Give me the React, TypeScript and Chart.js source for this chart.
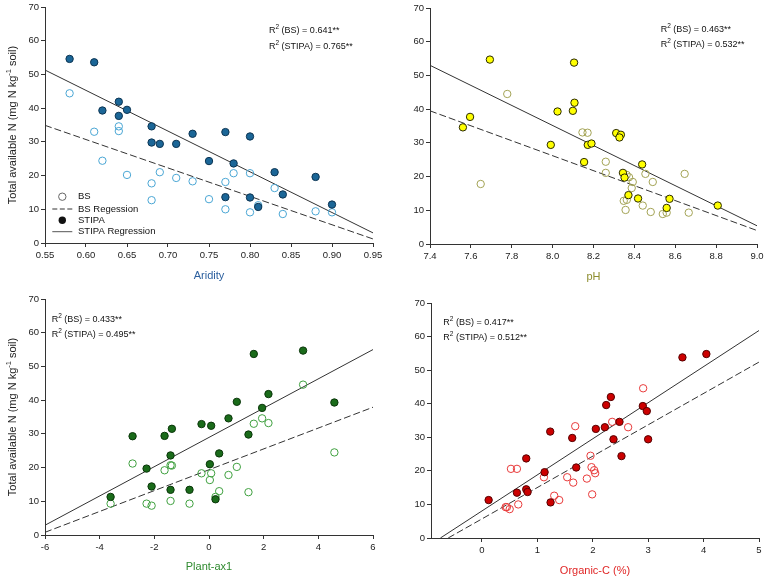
import React, { useEffect, useRef } from "react";
import { Chart, registerables } from "chart.js";
Chart.register(...registerables);

const FONT = "'Liberation Sans', Arial, Helvetica, sans-serif";
const SMALL = 9.5;
const R2SIZE = 9;

// ---------------- data ----------------
const yTicks = [0, 10, 20, 30, 40, 50, 60, 70];

// Panel 1: Aridity
const aridityTicks = [0.55, 0.6, 0.65, 0.7, 0.75, 0.8, 0.85, 0.9, 0.95];
const aridityStipaX = [0.58, 0.61, 0.62, 0.64, 0.64, 0.65, 0.68, 0.68, 0.69, 0.71, 0.73, 0.75, 0.77, 0.77, 0.78, 0.8, 0.8, 0.81, 0.83, 0.84, 0.88, 0.9];
const aridityStipaY = [54.6, 53.6, 39.3, 41.9, 37.7, 39.5, 34.6, 29.8, 29.4, 29.4, 32.4, 24.3, 32.9, 13.6, 23.6, 31.6, 13.5, 10.7, 21.0, 14.4, 19.6, 11.4];
const aridityBsX = [0.58, 0.61, 0.62, 0.64, 0.64, 0.65, 0.68, 0.68, 0.69, 0.71, 0.73, 0.75, 0.77, 0.77, 0.78, 0.8, 0.8, 0.81, 0.83, 0.84, 0.88, 0.9];
const aridityBsY = [44.4, 33.0, 24.4, 34.6, 33.2, 20.2, 17.7, 12.7, 21.0, 19.3, 18.3, 13.0, 18.1, 10.0, 20.7, 20.7, 9.1, 11.2, 16.3, 8.6, 9.4, 9.1];
const aridityStipaLineX = [0.55, 0.95];
const aridityStipaLineY = [51.3, 3.0];
const aridityBsLineX = [0.55, 0.95];
const aridityBsLineY = [34.9, 1.2];

// Panel 2: pH
const phTicks = [7.4, 7.6, 7.8, 8.0, 8.2, 8.4, 8.6, 8.8, 9.0];
const phStipaX = [7.693, 8.105, 7.561, 7.596, 8.024, 8.099, 8.107, 7.991, 8.172, 8.19, 8.154, 8.311, 8.334, 8.327, 8.438, 8.344, 8.352, 8.371, 8.418, 8.572, 8.558, 8.808];
const phStipaY = [54.7, 53.8, 34.6, 37.7, 39.3, 39.5, 41.9, 29.4, 29.4, 29.8, 24.3, 32.9, 32.4, 31.6, 23.6, 21.1, 19.7, 14.5, 13.5, 13.4, 10.7, 11.4];
const phBsX = [7.778, 7.648, 8.146, 8.171, 8.26, 8.26, 8.362, 8.374, 8.392, 8.387, 8.454, 8.49, 8.646, 8.348, 8.363, 8.357, 8.441, 8.48, 8.539, 8.558, 8.666];
const phBsY = [44.5, 17.8, 33.1, 33.0, 24.4, 21.1, 20.5, 19.8, 18.4, 16.6, 20.8, 18.4, 20.8, 12.8, 13.1, 10.1, 11.4, 9.5, 8.9, 9.3, 9.3];
const phStipaLineX = [7.4, 9.0];
const phStipaLineY = [53.0, 5.4];
const phBsLineX = [7.4, 9.0];
const phBsLineY = [39.5, 4.0];

// Panel 3: Plant-ax1
const plantTicks = [-6, -4, -2, 0, 2, 4, 6];
const plantStipaX = [-3.6, -2.796, -2.284, -2.1, -1.626, -1.358, -1.407, -1.407, -0.713, -0.274, 0.079, 0.031, 0.238, 0.372, 0.713, 1.018, 1.444, 1.639, 1.943, 2.175, 3.442, 4.587];
const plantStipaY = [11.3, 29.3, 19.7, 14.4, 29.4, 31.5, 23.6, 13.4, 13.4, 32.9, 32.4, 21.0, 10.6, 24.2, 34.6, 39.5, 29.8, 53.7, 37.7, 41.8, 54.7, 39.3];
const plantBsX = [-3.6, -2.796, -2.284, -2.1, -1.626, -1.407, -1.358, -1.407, -0.713, -0.274, 0.079, 0.031, 0.238, 0.372, 0.713, 1.018, 1.444, 1.639, 1.943, 2.175, 3.442, 4.587];
const plantBsY = [9.3, 21.2, 9.3, 8.7, 19.2, 20.7, 20.6, 10.1, 9.3, 18.3, 18.3, 16.3, 11.3, 13.0, 17.8, 20.2, 12.7, 33.0, 34.6, 33.2, 44.6, 24.5];
const plantStipaLineX = [-6, 6];
const plantStipaLineY = [2.9, 55.0];
const plantBsLineX = [-6, 6];
const plantBsLineY = [0.8, 37.9];

// Panel 4: Organic-C (%)
const orgTicks = [0, 1, 2, 3, 4, 5];
const orgStipaX = [0.12, 0.631, 0.799, 0.799, 0.823, 1.13, 1.232, 1.238, 1.629, 1.701, 2.055, 2.218, 2.242, 2.326, 2.374, 2.482, 2.518, 2.903, 2.975, 2.999, 3.618, 4.05];
const orgStipaY = [11.3, 13.5, 23.7, 14.5, 13.7, 19.6, 31.7, 10.6, 29.8, 21.0, 32.5, 33.0, 39.6, 42.0, 29.4, 34.6, 24.4, 39.3, 37.8, 29.4, 53.8, 54.8];
const orgBsX = [0.427, 0.45, 0.5, 0.523, 0.631, 0.655, 1.118, 1.304, 1.394, 1.538, 1.647, 1.683, 1.893, 1.959, 1.977, 1.989, 2.025, 2.043, 2.35, 2.638, 2.909];
const orgBsY = [9.2, 9.2, 8.6, 20.6, 20.6, 10.0, 18.1, 12.6, 11.3, 18.1, 16.5, 33.3, 17.7, 24.5, 21.1, 13.0, 20.2, 19.3, 34.6, 33.0, 44.6];
const orgStipaLineX = [-0.75, 5];
const orgStipaLineY = [0, 61.8];
const orgBsLineX = [-0.61, 5];
const orgBsLineY = [0, 52.4];

const legendLabels = ["BS", "BS Regession", "STIPA", "STIPA Regression"];
const yTitleMain = "Total available N (mg N kg";
const yTitleSup = "-1";
const yTitleEnd = " soil)";

// ---------------- panels ----------------
type Cfg = {
  left: number; top: number; width: number; height: number;
  padTop: number; padRight: number; yAxisW: number; xAxisH: number;
  xMin: number; xMax: number; xTicks: number[]; xDec: number;
  xTitle: string; xTitleColor: string; xTitlePad: number;
  stipaX: number[]; stipaY: number[]; bsX: number[]; bsY: number[];
  sLX: number[]; sLY: number[]; bLX: number[]; bLY: number[];
  stipaFill: string; stipaBorder: string; bsBorder: string;
  r2: string[]; r2Dx: number; r2Dy: number[];
  yTitle: boolean; legend: boolean;
};

const panels: Cfg[] = [
  {
    left: 0, top: 0, width: 384, height: 290, padTop: 7, padRight: 11, yAxisW: 45, xAxisH: 47,
    xMin: 0.55, xMax: 0.95, xTicks: aridityTicks, xDec: 2,
    xTitle: "Aridity", xTitleColor: "#2b5f9e", xTitlePad: 7,
    stipaX: aridityStipaX, stipaY: aridityStipaY, bsX: aridityBsX, bsY: aridityBsY,
    sLX: aridityStipaLineX, sLY: aridityStipaLineY, bLX: aridityBsLineX, bLY: aridityBsLineY,
    stipaFill: "#1b6697", stipaBorder: "#0c3452", bsBorder: "#4aa6d4",
    r2: ["0.641**", "0.765**"], r2Dx: 224, r2Dy: [24, 39.7],
    yTitle: true, legend: true,
  },
  {
    left: 384, top: 0, width: 383, height: 290, padTop: 8, padRight: 10, yAxisW: 46, xAxisH: 46,
    xMin: 7.4, xMax: 9.0, xTicks: phTicks, xDec: 1,
    xTitle: "pH", xTitleColor: "#8d8d2e", xTitlePad: 6,
    stipaX: phStipaX, stipaY: phStipaY, bsX: phBsX, bsY: phBsY,
    sLX: phStipaLineX, sLY: phStipaLineY, bLX: phBsLineX, bLY: phBsLineY,
    stipaFill: "#ffff00", stipaBorder: "#2a2a00", bsBorder: "#a3a355",
    r2: ["0.463**", "0.532**"], r2Dx: 230.7, r2Dy: [21.3, 37],
    yTitle: false, legend: false,
  },
  {
    left: 0, top: 290, width: 384, height: 290, padTop: 9, padRight: 11, yAxisW: 45, xAxisH: 45,
    xMin: -6, xMax: 6, xTicks: plantTicks, xDec: 0,
    xTitle: "Plant-ax1", xTitleColor: "#2f8a2f", xTitlePad: 6.7,
    stipaX: plantStipaX, stipaY: plantStipaY, bsX: plantBsX, bsY: plantBsY,
    sLX: plantStipaLineX, sLY: plantStipaLineY, bLX: plantBsLineX, bLY: plantBsLineY,
    stipaFill: "#1a6b1a", stipaBorder: "#0a360a", bsBorder: "#3fa03f",
    r2: ["0.433**", "0.495**"], r2Dx: 6.7, r2Dy: [20.3, 35.7],
    yTitle: true, legend: false,
  },
  {
    left: 384, top: 290, width: 383, height: 290, padTop: 13, padRight: 8, yAxisW: 47, xAxisH: 42,
    xMin: -0.92, xMax: 5, xTicks: orgTicks, xDec: 0,
    xTitle: "Organic-C (%)", xTitleColor: "#e02626", xTitlePad: 2.4,
    stipaX: orgStipaX, stipaY: orgStipaY, bsX: orgBsX, bsY: orgBsY,
    sLX: orgStipaLineX, sLY: orgStipaLineY, bLX: orgBsLineX, bLY: orgBsLineY,
    stipaFill: "#cc0000", stipaBorder: "#550000", bsBorder: "#e83a3a",
    r2: ["0.417**", "0.512**"], r2Dx: 12.3, r2Dy: [19.3, 34.7],
    yTitle: false, legend: false,
  },
];

const pts = (xs: number[], ys: number[]) => xs.map((x, i) => ({ x, y: ys[i] }));

function drawR2(ctx: CanvasRenderingContext2D, x: number, y: number, label: string, value: string) {
  ctx.fillStyle = "#111";
  ctx.textBaseline = "middle";
  ctx.textAlign = "left";
  ctx.font = `${R2SIZE}px ${FONT}`;
  ctx.fillText("R", x, y);
  let cx = x + ctx.measureText("R").width;
  ctx.font = `6.5px ${FONT}`;
  ctx.fillText("2", cx, y - 3.5);
  cx += ctx.measureText("2").width;
  ctx.font = `${R2SIZE}px ${FONT}`;
  ctx.fillText(` (${label}) = ${value}`, cx, y);
}

function annotPlugin(c: Cfg) {
  return {
    id: "annot",
    afterDraw(chart: any) {
      const ctx: CanvasRenderingContext2D = chart.ctx;
      const ca = chart.chartArea;
      ctx.save();
      drawR2(ctx, ca.left + c.r2Dx, ca.top + c.r2Dy[0], "BS", c.r2[0]);
      drawR2(ctx, ca.left + c.r2Dx, ca.top + c.r2Dy[1], "STIPA", c.r2[1]);

      if (c.legend) {
        const mx = 62.3, tx = 78, lx0 = 52.3, lx1 = 72.3;
        const rows = [196.7, 209, 220.3, 231.7];
        ctx.font = `${SMALL}px ${FONT}`;
        ctx.fillStyle = "#111";
        ctx.textBaseline = "middle";
        legendLabels.forEach((t, i) => ctx.fillText(t, tx, rows[i]));
        ctx.beginPath();
        ctx.arc(mx, rows[0], 3.7, 0, Math.PI * 2);
        ctx.strokeStyle = "#666";
        ctx.lineWidth = 1;
        ctx.stroke();
        ctx.strokeStyle = "#333";
        ctx.setLineDash([5, 2.5]);
        ctx.beginPath();
        ctx.moveTo(lx0, rows[1]);
        ctx.lineTo(lx1, rows[1]);
        ctx.stroke();
        ctx.setLineDash([]);
        ctx.beginPath();
        ctx.arc(mx, rows[2], 3.7, 0, Math.PI * 2);
        ctx.fillStyle = "#111";
        ctx.fill();
        ctx.strokeStyle = "#555";
        ctx.beginPath();
        ctx.moveTo(lx0, rows[3]);
        ctx.lineTo(lx1, rows[3]);
        ctx.stroke();
      }

      if (c.yTitle) {
        const cy = (ca.top + ca.bottom) / 2;
        ctx.translate(12.5, cy);
        ctx.rotate(-Math.PI / 2);
        ctx.fillStyle = "#222";
        ctx.textBaseline = "middle";
        ctx.textAlign = "left";
        const big = `11px ${FONT}`;
        const small = `7.5px ${FONT}`;
        ctx.font = big;
        const w1 = ctx.measureText(yTitleMain).width;
        const w3 = ctx.measureText(yTitleEnd).width;
        ctx.font = small;
        const w2 = ctx.measureText(yTitleSup).width;
        let x = -(w1 + w2 + w3) / 2;
        ctx.font = big;
        ctx.fillText(yTitleMain, x, 0);
        x += w1;
        ctx.font = small;
        ctx.fillText(yTitleSup, x, -4);
        x += w2;
        ctx.font = big;
        ctx.fillText(yTitleEnd, x, 0);
      }
      ctx.restore();
    },
  };
}

function Panel({ c }: { c: Cfg }) {
  const ref = useRef<HTMLCanvasElement>(null);
  useEffect(() => {
    const gridCfg = { display: true, drawOnChartArea: false, drawTicks: true, tickLength: 4, color: "#333", lineWidth: 1 };
    const borderCfg = { display: true, color: "#333", width: 1 };
    const tickFont = { family: FONT, size: SMALL };
    const chart = new Chart(ref.current as HTMLCanvasElement, {
      type: "scatter",
      data: {
        datasets: [
          {
            label: "STIPA", data: pts(c.stipaX, c.stipaY), pointRadius: 3.7,
            pointBackgroundColor: c.stipaFill, pointBorderColor: c.stipaBorder, pointBorderWidth: 1, order: 0,
          },
          {
            label: "BS", data: pts(c.bsX, c.bsY), pointRadius: 3.7,
            pointBackgroundColor: "rgba(255,255,255,0)", pointBorderColor: c.bsBorder, pointBorderWidth: 1, order: 1,
          },
          {
            label: "STIPA Regression", data: pts(c.sLX, c.sLY), showLine: true, pointRadius: 0,
            borderColor: "#333", borderWidth: 1, order: 2,
          },
          {
            label: "BS Regession", data: pts(c.bLX, c.bLY), showLine: true, pointRadius: 0,
            borderColor: "#333", borderWidth: 1, borderDash: [7, 3], order: 3,
          },
        ],
      } as any,
      options: {
        responsive: false,
        animation: false,
        devicePixelRatio: 1,
        events: [],
        layout: { padding: { top: c.padTop, right: c.padRight, left: 0, bottom: 0 } },
        plugins: { legend: { display: false }, tooltip: { enabled: false } },
        scales: {
          x: {
            type: "linear", position: "bottom", min: c.xMin, max: c.xMax,
            afterBuildTicks: (a: any) => { a.ticks = c.xTicks.map((v) => ({ value: v })); },
            afterFit: (a: any) => { a.height = c.xAxisH; a.paddingLeft = 0; a.paddingRight = 0; },
            ticks: {
              font: tickFont, color: "#222", padding: 3, maxRotation: 0, autoSkip: false,
              callback: (v: any) => Number(v).toFixed(c.xDec),
            },
            grid: gridCfg, border: borderCfg,
            title: {
              display: true, text: c.xTitle, color: c.xTitleColor,
              font: { family: FONT, size: 11 }, padding: { top: 0, bottom: c.xTitlePad },
            },
          },
          y: {
            type: "linear", position: "left", min: 0, max: 70,
            afterBuildTicks: (a: any) => { a.ticks = yTicks.map((v) => ({ value: v })); },
            afterFit: (a: any) => { a.width = c.yAxisW; a.paddingTop = 0; a.paddingBottom = 0; },
            ticks: { font: tickFont, color: "#222", padding: 2, autoSkip: false },
            grid: gridCfg, border: borderCfg,
          },
        },
      } as any,
      plugins: [annotPlugin(c)],
    });
    return () => chart.destroy();
  }, [c]);
  return (
    <canvas
      ref={ref}
      width={c.width}
      height={c.height}
      style={{ position: "absolute", left: c.left, top: c.top, width: c.width, height: c.height }}
    />
  );
}

export default function App() {
  return (
    <div style={{ position: "absolute", left: 0, top: 0, width: 767, height: 580, background: "#fff" }}>
      {panels.map((c, i) => (
        <Panel key={i} c={c} />
      ))}
    </div>
  );
}
